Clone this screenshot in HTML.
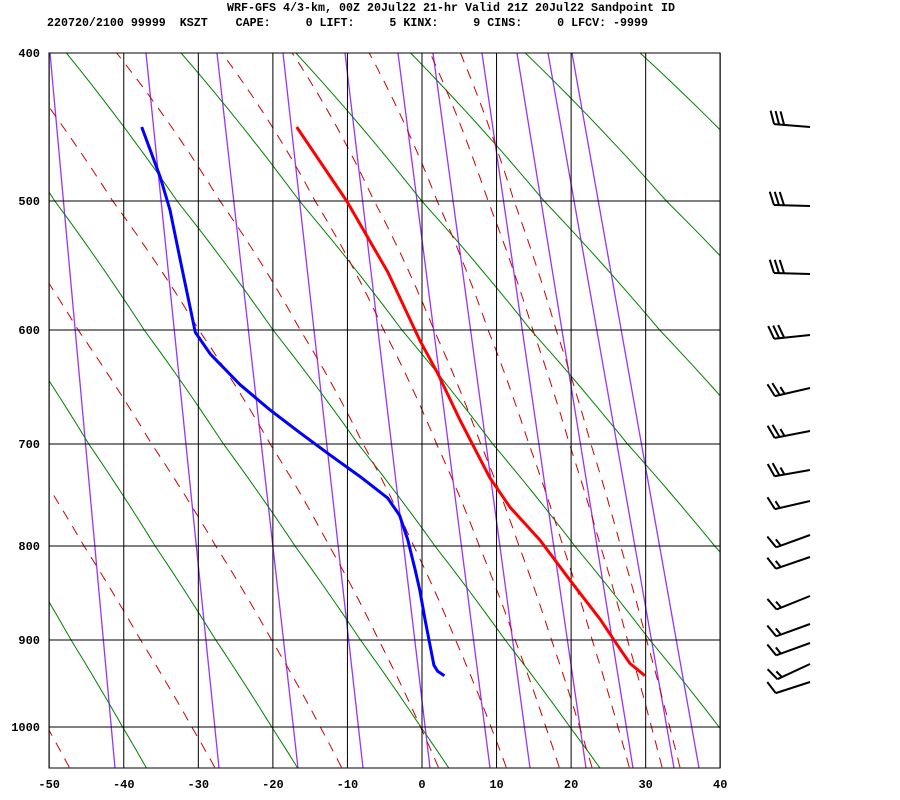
<!DOCTYPE html>
<html><head><meta charset="utf-8"><style>
html,body{margin:0;padding:0;background:#fff;}
svg{display:block;}
text{font-family:"Liberation Mono",monospace;font-weight:bold;fill:#000;}
</style></head><body>
<svg id="chart" width="900" height="800" viewBox="0 0 900 800" xmlns="http://www.w3.org/2000/svg">
<defs><clipPath id="plotclip"><rect x="49" y="53" width="671" height="715"/></clipPath></defs>
<text x="451" y="11" font-size="12" text-anchor="middle" textLength="448" lengthAdjust="spacingAndGlyphs">WRF-GFS 4/3-km, 00Z 20Jul22 21-hr Valid 21Z 20Jul22 Sandpoint ID</text>
<text x="47" y="26" font-size="12" xml:space="preserve" textLength="601" lengthAdjust="spacingAndGlyphs">220720/2100 99999  KSZT    CAPE:     0 LIFT:     5 KINX:     9 CINS:     0 LFCV: -9999</text>
<g id="bg" clip-path="url(#plotclip)"></g>
<g id="grid"></g>
<g id="prof" clip-path="url(#plotclip)"></g>
<rect x="49" y="53" width="671" height="715" fill="none" stroke="#000" stroke-width="1"/>
<g id="axes"></g>
<g id="barbs"></g>
</svg>
<script>
// ---- data ----
const tempP = [450,500,555,609,638,679,733,762,794,839,878,902,927,941];
const tempT = [-16.8,-10.1,-4.6,-0.3,2.1,5.1,9.1,11.8,15.8,20.1,23.9,25.9,27.9,29.9];
const dewP = [450,484,507,552,602,621,648,670,690,711,732,753,770,794,826,847,878,907,929,936,941];
const dewT = [-37.6,-35.1,-33.8,-32.2,-30.4,-28.4,-24.4,-20.4,-16.4,-12.3,-8.3,-4.6,-3.0,-1.9,-0.9,-0.3,0.4,1.1,1.6,2.1,3.0];
const xTicks = [-50,-40,-30,-20,-10,0,10,20,30,40];
const pTicks = [400,500,600,700,800,900,1000];
const thetas = [233,253,273,293,313,333,353,373,393];
const moistStartT = [-47.3,-27.8,-10.8,2.2,11.3,18.4,22.8,27.8,32.2,34.6];
const mixTop = [50,146,217,283,345,398,433,482,517,548,572];
const mixBot = [115,219,298,363,430,490,530,586,633,674,699];
const barbY = [127,206,274,335,388,431,470,501,535,557,596,624,643,664,682];
const barbAng = [-4.6,-1.5,-1.5,6,13,11,10,13,20,19,22,20,20,25,18];
const barbSpd = [3,3,3,3,2.5,2.5,2.5,1.5,1.5,1.5,1.5,1.5,1.5,1.5,1];

// ---- axis functions ----
const NS='http://www.w3.org/2000/svg';
const pTab=[[400,53],[500,201],[600,330],[700,444],[800,546],[900,640],[1000,727],[1050,769]];
function yOf(p){
  for(let i=0;i<pTab.length-1;i++){
    const a=pTab[i],b=pTab[i+1];
    if(p<=b[0]||i==pTab.length-2){return a[1]+(p-a[0])*(b[1]-a[1])/(b[0]-a[0]);}
  }
}
function xOf(t){return 422+t*7.456;}
function mk(tag,attrs,parent){const e=document.createElementNS(NS,tag);for(const k in attrs)e.setAttribute(k,attrs[k]);parent.appendChild(e);return e;}
const bg=document.getElementById('bg'),grid=document.getElementById('grid'),prof=document.getElementById('prof'),axes=document.getElementById('axes'),barbs=document.getElementById('barbs');

// mixing ratio lines
for(let i=0;i<mixTop.length;i++){
  const l=mk('line',{x1:mixTop[i],y1:53,x2:mixBot[i],y2:768,stroke:'#9933ff','stroke-width':1.3},bg);
  
  
}
// dry adiabats
thetas.forEach(th=>{
  let pts=[];
  for(let p=1050;p>=400;p-=10){const T=th*Math.pow(p/1000,0.286)-273.15;pts.push(xOf(T).toFixed(1)+','+yOf(p).toFixed(1));}
  const l=mk('polyline',{points:pts.join(' '),fill:'none',stroke:'#008000','stroke-width':1},bg);
  
  
});
// moist adiabats
function es(tc){return 6.112*Math.exp(17.67*tc/(tc+243.5));}
moistStartT.forEach(t0=>{
  let T=t0+273.15,p=1048,pts=[];
  const Rd=287,cp=1005,Lv=2.5e6,eps=0.622;
  while(p>=398){
    pts.push(xOf(T-273.15).toFixed(1)+','+yOf(p).toFixed(1));
    const e=es(T-273.15),rs=eps*e/(p-e);
    const dTdp=(Rd*T+Lv*rs)/(p*(cp+Lv*Lv*rs*eps/(Rd*T*T)));
    T-=dTdp*2;p-=2;
  }
  const l=mk('polyline',{points:pts.join(' '),fill:'none',stroke:'#cc0000','stroke-width':1,'stroke-dasharray':'10 8'},bg);
  
  
});
// grid
xTicks.forEach(t=>{
  const l=mk('line',{x1:xOf(t),y1:53,x2:xOf(t),y2:768,stroke:'#000','stroke-width':1},grid);
  
  
  const tx=mk('text',{x:xOf(t),y:788,'font-size':12,'text-anchor':'middle'},axes);
  tx.textContent=t;
  
  
});
pTicks.forEach(p=>{
  const l=mk('line',{x1:49,y1:yOf(p),x2:720,y2:yOf(p),stroke:'#000','stroke-width':1},grid);
  
  
  const tx=mk('text',{x:40,y:yOf(p)+4,'font-size':12,'text-anchor':'end'},axes);
  tx.textContent=p;
  
  
});
// profiles
function profile(P,T,color,name){
  const pts=P.map((p,i)=>xOf(T[i]).toFixed(1)+','+yOf(p).toFixed(1));
  const l=mk('polyline',{points:pts.join(' '),fill:'none',stroke:color,'stroke-width':3,'stroke-linejoin':'round'},prof);
  
  
}
profile(tempP,tempT,'#ff0000','temperature-profile');
profile(dewP,dewT,'#0000ff','dewpoint-profile');
// wind barbs
barbY.forEach((y,i)=>{
  const a=barbAng[i]*Math.PI/180,len=36;
  const tipX=810,tipY=y;
  const dx=Math.cos(a),dy=-Math.sin(a);
  const bx=tipX-dx*len,by=tipY-dy*len;
  const g=mk('g',{},barbs);
  
  
  mk('line',{x1:bx,y1:by,x2:tipX,y2:tipY,stroke:'#000','stroke-width':2},g);
  let nx=dy,ny=-dx; nx-=0.35*dx; ny-=0.35*dy;
  const nl=Math.hypot(nx,ny); nx/=nl; ny/=nl;
  let s=barbSpd[i],k=0;
  while(s>0){
    const L=s>=1?14:8;
    const px=bx+dx*k*5,py=by+dy*k*5;
    mk('line',{x1:px,y1:py,x2:px+nx*L,y2:py+ny*L,stroke:'#000','stroke-width':2},g);
    s-=1;k++;
  }
});
</script>
</body></html>
